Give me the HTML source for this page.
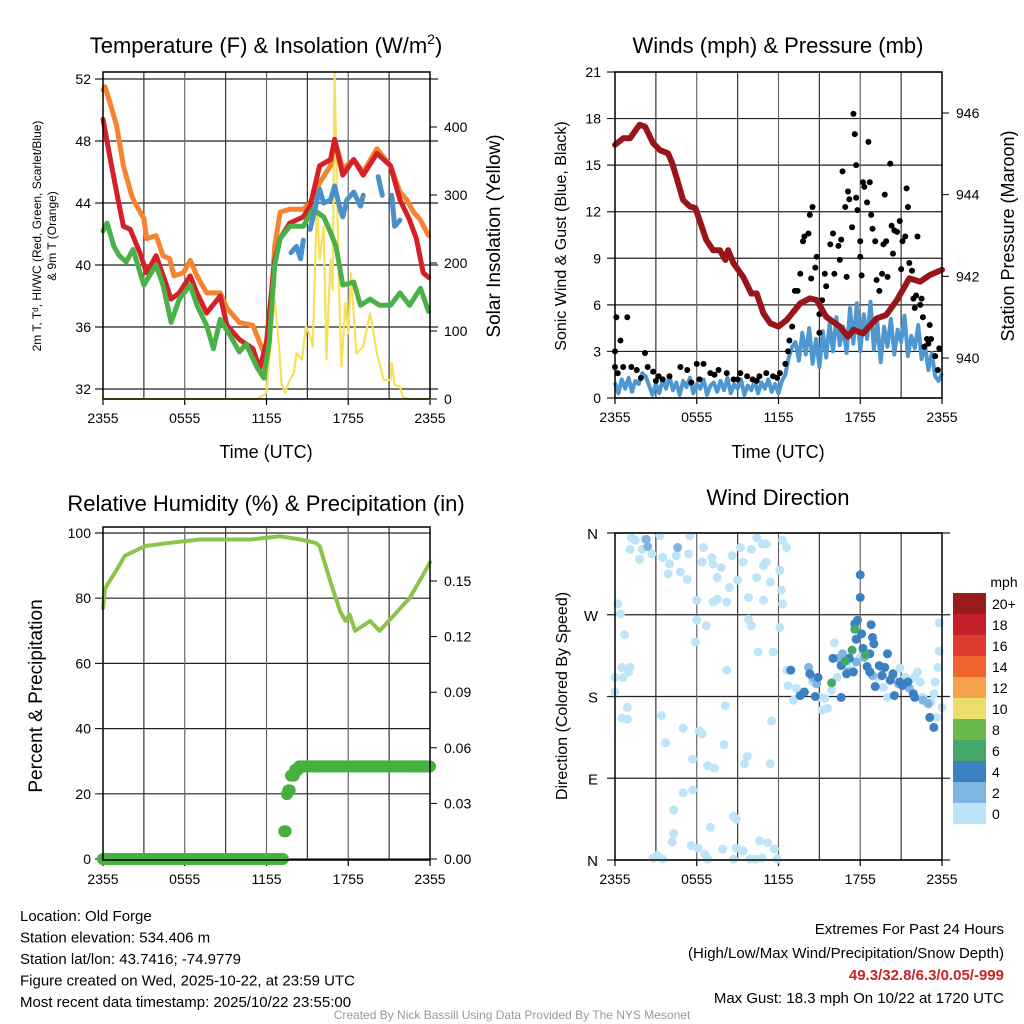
<!DOCTYPE html>
<html><head><meta charset="utf-8">
<style>
html,body{margin:0;padding:0;background:#fff;}
svg{display:block;font-family:"Liberation Sans",sans-serif;}
</style></head>
<body>
<svg id="root" width="1024" height="1024" viewBox="0 0 1024 1024" xmlns="http://www.w3.org/2000/svg">
<g id="g1"></g>
<g id="g2"></g>
<g id="g3"></g>
<g id="g4"></g>
<g id="gt"></g>
</svg>
<script>
// ---------- DATA ----------
const timeTicks = ["2355","0555","1155","1755","2355"];
const tempTicks = [32,36,40,44,48,52];
const solarTicks = [0,100,200,300,400];
const windTicks = [0,3,6,9,12,15,18,21];
const presTicks = [940,942,944,946];
const rhTicks = [0,20,40,60,80,100];
const precipTicks = [0,0.03,0.06,0.09,0.12,0.15];
const dirLabels = ["N","E","S","W","N"];

const orangeT = [0,0.15,0.5,1.0,1.5,2.1,2.35,3.0,3.2,3.9,4.4,4.9,5.2,5.9,6.4,6.9,7.6,8.6,9.1,10.0,11.0,11.5,11.8,12.2,12.6,13.0,13.7,14.7,15.2,15.9,16.7,17.0,17.6,18.4,19.1,20.1,21.1,21.8,22.3,22.8,23.3,23.9];
const orangeV = [51.3,51.5,50.5,49,46.4,44.5,44,43,41.7,41.9,40.6,40.4,39.3,39.5,40.3,39.3,38.2,38.2,37.2,36.3,36.1,35,34.4,35.7,41.2,43.4,43.6,43.6,44,45.3,46.4,48.1,46.2,46.8,46,47.5,46.4,44.7,44.2,43.4,42.9,41.9];
const redT = [0,0.5,1.0,1.5,2.0,2.7,3.2,3.9,4.5,5.0,5.6,6.4,6.9,7.6,8.6,9.1,10.0,11.0,11.5,12.0,12.6,13.0,13.7,14.7,15.2,15.9,16.7,17.0,17.6,18.4,19.1,20.1,21.1,21.8,22.5,23.0,23.5,23.9];
const redV = [49.4,47,44.7,42.5,42.3,40.8,39.5,40.6,39.1,37.8,38.2,39.3,38.2,36.9,38,36.1,35.2,34.6,33.3,35,40.3,41.7,42.7,43.1,43.8,46.4,46.8,48.1,45.8,46.8,45.8,47.2,46.4,44.2,42.9,41.7,39.5,39.2];
const greenT = [0,0.3,0.8,1.2,1.7,2.2,3.0,3.4,3.9,4.4,5.0,5.6,6.4,6.9,7.6,8.1,8.6,9.3,10.0,10.5,11.3,11.8,12.2,12.6,13.0,13.7,14.7,15.4,16.2,16.7,17.1,17.6,18.4,18.9,19.6,20.3,21.1,21.8,22.5,23.3,23.9];
const greenV = [42.2,42.7,41.2,40.6,40.2,41,38.7,39.3,40,38.7,36.3,37.8,38.7,37.4,36.1,34.6,36.5,35.5,34.4,34.9,33.4,32.7,35,40,41.7,42.5,42.5,43.6,43.1,42.1,41.2,38.7,38.9,37.4,37.8,37.4,37.4,38.2,37.4,38.5,37];
const hiwcT = [13.8,14.2,14.5,14.7,null,15.2,15.9,16.2,16.7,17.0,17.4,17.6,17.9,18.4,18.9,19.1,null,20.2,20.5,null,21.2,21.4,21.8];
const hiwcV = [40.8,41.2,40.4,41.6,null,42.3,44.9,44,44.2,45.1,43.6,43.1,44.2,44.7,43.8,44.5,null,45.7,44.5,null,44.5,42.5,42.9];
const solarT = [0,11.3,12.0,12.4,12.6,12.9,13.1,13.35,13.7,14.0,14.2,14.6,14.9,15.2,15.4,15.7,15.9,16.2,16.4,16.7,16.85,17.0,17.3,17.5,17.8,18.0,18.2,18.6,19.1,19.6,20.1,20.6,21.1,21.2,21.4,21.8,22.0,22.5,24];
const solarV = [0,0,9,107,146,82,23,9,28,38,67,58,107,92,77,289,205,254,58,205,160,480,180,48,141,97,185,67,77,126,67,28,28,53,21,18,3,0,0];

const sustained = [1.0,0.3,1.2,0.6,1.3,0.4,1.1,0.9,1.6,1.4,0.8,0.2,0.9,0.3,1.2,0.6,1.4,0.5,1.0,0.2,1.1,0.7,1.3,0.3,0.9,0.6,1.2,0.2,0.8,1.0,0.4,1.1,0.5,1.3,0.3,0.9,0.6,1.2,0.2,0.8,0.5,1.1,0.3,1.0,0.6,1.2,0.4,0.9,0.3,1.1,
 1.5,2.6,3.3,3.6,2.4,4.2,2.8,4.5,2.2,3.8,2.0,4.3,2.6,4.8,3.0,5.2,3.4,4.6,2.9,5.8,3.5,6.1,3.0,5.4,3.8,6.2,3.1,4.9,2.3,4.6,3.3,5.1,2.8,4.4,3.6,5.3,2.7,4.0,3.2,4.7,2.5,3.4,1.8,2.9,1.4,1.1,1.6];
const gustT = [0,0.1,0.9,0.4,0,0.2,0.6,1.2,1.6,2.2,2.4,2.8,3.2,3.5,4.0,4.8,5.3,6.0,6.5,6.2,7.0,7.6,8.2,8.7,9.2,9.7,10.1,10.6,11.1,11.6,12.1,12.5,12.7,12.8,13.0,13.2,13.4,13.6,13.8,13.9,14.2,14.3,14.5,14.8,14.7,14.4,15.0,15.0,15.2,15.4,15.5,15.8,16.0,16.1,16.4,16.5,16.6,16.7,16.9,17.0,17.1,17.2,17.4,17.5,17.6,17.7,17.7,17.8,18.0,18.0,18.1,18.2,18.3,18.5,18.6,18.7,18.8,18.9,19.1,19.2,19.4,19.6,19.7,19.8,19.9,20.0,20.2,20.3,20.4,20.5,20.7,20.9,21.0,21.1,21.3,21.4,21.5,21.6,21.8,21.9,22.0,22.1,22.2,22.4,22.5,22.6,22.7,22.9,23.0,23.1,23.2,23.5,23.7,23.8,1.9,3.0,5.6,7.3,9.0,10.4,11.9];
const gustV = [3.0,5.2,5.2,3.7,2.0,1.6,2.0,2.0,1.8,2.9,2.0,1.7,1.4,1.2,1.4,2.0,1.8,2.2,2.2,1.2,1.6,1.8,1.6,1.2,1.6,1.4,1.2,1.4,1.6,1.4,1.6,2.2,3.0,3.7,4.6,6.9,6.9,8.0,10.1,10.4,10.6,11.8,12.3,9.1,8.4,7.7,5.4,4.2,6.3,8.0,7.2,9.9,10.6,8.0,9.8,8.9,10.2,14.6,12.3,7.8,13.3,12.8,11.0,18.3,17.0,15.0,12.9,12.1,10.1,9.1,7.9,13.9,13.6,12.6,16.5,13.9,11.8,10.9,10.1,7.6,6.9,8.0,9.9,13.1,10.1,7.8,15.1,11.1,9.3,10.8,10.7,11.4,8.3,10.1,10.4,13.5,12.3,8.7,8.2,6.4,5.8,6.6,10.4,6.0,6.4,5.2,3.3,3.8,3.5,4.7,3.8,2.7,1.8,3.2,1.3,1.1,1.0,1.5,1.2,1.1,1.3];
const presT = [0,0.6,1.1,1.8,2.2,2.8,3.3,3.9,4.2,4.5,5.0,5.5,5.9,6.2,6.7,7.2,7.7,8.1,8.3,8.7,9.4,10.0,10.4,10.9,11.4,12.0,12.6,13.6,14.3,14.8,15.5,16.5,17.1,17.5,18.2,19.2,19.9,20.7,21.6,22.4,23.1,24.0];
const presV = [945.22,945.38,945.38,945.71,945.67,945.26,945.09,945.01,944.77,944.44,943.87,943.71,943.67,943.38,942.89,942.64,942.64,942.40,942.64,942.32,941.99,941.58,941.58,941.09,940.85,940.77,940.93,941.34,941.46,941.42,941.01,940.77,940.52,940.69,940.60,940.97,941.05,941.42,941.95,941.87,942.03,942.16];

const rhT = [0,0.15,0.9,1.6,3.1,4.9,7.1,10.8,13.0,14.5,15.6,15.9,16.7,17.4,17.8,18.1,18.5,19.6,20.3,21.4,22.5,23.6,24];
const rhV = [77,83,88,93,96,97,98,98,99,98,97,96,85,76,73,75,70,73,70,75,80,88,91];
const precipT = [0,13.3,13.45,13.6,13.8,14.1,14.4];
const precipV = [0,0.015,0.035,0.037,0.045,0.048,0.05];

const calmPts = [[1.2,355],[1.5,352],[2.2,353],[3.3,357],[1.1,342],[1.8,331],[2.0,342],[2.7,337],[3.5,333],[4.0,326],[3.9,315],[4.8,317],[5.3,309],[4.5,335],[5.4,337],[5.5,357],[6.5,344],[6.4,328],[7.1,333],[7.2,326],[7.8,322],[7.5,311],[8.6,335],[9.2,344],[9.4,328],[8.4,300],[9.0,308],[10.0,342],[10.4,355],[10.8,348],[11.1,348],[10.9,324],[11.1,328],[10.4,311],[11.4,306],[12.1,319],[12.3,352],[12.6,344],[12.2,297],[12.3,282],[10.9,286],[9.8,289],[8.2,284],[7.5,287],[7.2,284],[6.0,286],[6.0,264],[6.7,258],[5.9,240],[9.8,265],[10.0,258],[10.5,229],[11.6,229],[12.1,256],[0.2,282],[0.4,271],[0.7,248],[0.5,212],[1.1,212],[1.0,207],[0.0,201],[0.6,201],[0.0,185],[0.9,168],[0.5,156],[0.9,155],[3.4,159],[5.0,145],[6.2,142],[6.4,139],[3.7,129],[8.1,170],[8.2,209],[8.0,127],[5.7,111],[6.8,104],[7.3,101],[9.7,114],[9.5,106],[11.5,153],[11.4,106],[5.7,77],[5.0,74],[4.3,55],[4.3,29],[4.2,20],[7.0,36],[8.7,48],[8.9,45],[5.6,16],[6.1,13],[7.9,12],[8.9,13],[9.4,10],[10.6,21],[11.2,19],[11.7,12],[2.8,2],[3.1,5],[3.5,1],[6.6,6],[6.8,1],[8.7,1],[9.9,1],[10.3,1],[10.8,2],[11.9,1],[12.6,209],[12.7,192],[13.1,176],[13.3,189],[13.6,185],[14.5,196],[15.0,179],[15.2,165],[15.6,167],[15.4,178],[15.9,187],[16.1,239],[16.3,201],[17.0,216],[17.4,209],[18.0,223],[19.3,201],[19.7,190],[20.0,179],[20.9,211],[21.3,201],[21.6,198],[22.0,201],[22.2,207],[22.4,196],[22.6,179],[22.9,174],[23.2,174],[23.4,183],[23.5,196],[23.7,212],[23.8,230],[23.8,261],[24.0,168],[23.6,157]];
const lightPts = [[2.3,353],[2.4,345],[4.6,344],[14.2,212],[14.5,201],[14.8,194],[16.4,222],[16.7,227],[17.1,207],[17.7,218],[18.3,223],[18.9,203],[19.6,212],[20.4,203],[20.8,194],[21.6,189],[22.6,176],[23.0,172]];
const modPts = [[12.9,209],[13.6,181],[13.9,185],[14.3,205],[14.9,201],[14.7,180],[16.6,179],[16.0,222],[16.6,214],[17.0,205],[17.5,207],[17.2,222],[17.6,260],[17.7,243],[17.8,264],[18.1,249],[18.2,233],[18.0,289],[18.0,314],[18.5,213],[18.7,207],[18.8,259],[18.9,245],[19.0,238],[18.7,227],[19.1,191],[19.4,214],[19.6,203],[19.8,212],[20.0,227],[20.2,198],[20.4,205],[20.5,181],[20.9,196],[21.1,192],[21.5,196],[21.9,183],[23.1,157],[23.4,146],[22.0,179]];
const freshPts = [[15.9,195],[16.9,219],[17.4,231],[17.6,254],[18.4,226]];
const speedBins = ["20+","18","16","14","12","10","8","6","4","2","0"];
const binColors = ["#981b1e","#c3202b","#de3b2f","#ef6430","#f6a24c","#ebdf69","#6ab94d","#43a868","#3b80c2","#7fb6e1","#bde4f8"];

// ---------- HELPERS ----------
const NS="http://www.w3.org/2000/svg";
function mk(parent, tag, attrs, name){
  const el=document.createElementNS(NS,tag);
  for(const k in attrs) el.setAttribute(k,attrs[k]);
  
  
  parent.appendChild(el); return el;
}
function txt(parent,x,y,s,size,name,anchor,extra){
  const el=mk(parent,'text',Object.assign({x:x,y:y,'font-size':size,'text-anchor':anchor||'middle',fill:'#000'},extra||{}),name);
  el.textContent=s; return el;
}
function lin(d0,d1,r0,r1){return v=>r0+(v-d0)*(r1-r0)/(d1-d0);}
function frame(g,x0,x1,y0,y1){
  mk(g,'rect',{x:x0,y:y0,width:x1-x0,height:y1-y0,fill:'none',stroke:'#000','stroke-width':1.5},'plot-frame');
}
function timeGrid(g,x0,x1,y0,y1,xs){
  for(let h=3;h<24;h+=3){
    mk(g,'line',{x1:xs(h),x2:xs(h),y1:y0,y2:y1,stroke:h%6?'#333':'#666','stroke-width':1.2},'x-gridline');
  }
  timeTicks.forEach((s,i)=>{
    const x=xs(i*6);
    mk(g,'line',{x1:x,x2:x,y1:y1,y2:y1+6,stroke:'#000','stroke-width':1.2},'x-tick');
    txt(g,x,y1+24,s,14,'x-tick-label');
  });
}
function poly(g,T,V,xs,ys,stroke,w,name){
  let d='',pen=false;
  for(let i=0;i<T.length;i++){
    if(T[i]===null){pen=false;continue;}
    d+=(pen?'L':'M')+xs(T[i]).toFixed(1)+','+ys(V[i]).toFixed(1);
    pen=true;
  }
  return mk(g,'path',{d:d,fill:'none',stroke:stroke,'stroke-width':w,'stroke-linejoin':'round','stroke-linecap':'round'},name);
}

// ---------- PANEL 1 ----------
(function(){
  const g=document.getElementById('g1');
  const x0=103,x1=430,y0=72,y1=399;
  const xs=lin(0,24,x0,x1), ys=lin(32,52,389,79), ss=lin(0,400,399,127);
  tempTicks.forEach(v=>{
    mk(g,'line',{x1:x0-8,x2:x1+8,y1:ys(v),y2:ys(v),stroke:'#222','stroke-width':1.2},'y-gridline');
    txt(g,x0-12,ys(v)+5,String(v),14,'y-tick-label','end');
  });
  solarTicks.forEach(v=>{
    mk(g,'line',{x1:x1,x2:x1+7,y1:ss(v),y2:ss(v),stroke:'#000'},'y2-tick');
    txt(g,x1+14,ss(v)+5,String(v),14,'y2-tick-label','start');
  });
  timeGrid(g,x0,x1,y0,y1,xs);
  poly(g,solarT,solarV,xs,ss,'#f8e05a',2.2,'solar-line');
  poly(g,orangeT,orangeV,xs,ys,'#f5832f',5,'temp-9m-line');
  poly(g,redT,redV,xs,ys,'#d42027',5,'temp-2m-line');
  poly(g,greenT,greenV,xs,ys,'#4ab148',5,'dewpoint-line');
  poly(g,hiwcT,hiwcV,xs,ys,'#4a90c9',5,'hi-wc-line');
  frame(g,x0,x1,y0,y1);
  const t=txt(g,266,53,'Temperature (F) & Insolation (W/m',22,'chart-title');
  const sp=document.createElementNS(NS,'tspan'); sp.setAttribute('dy','-9'); sp.setAttribute('font-size','14'); sp.textContent='2'; t.appendChild(sp);
  const sp2=document.createElementNS(NS,'tspan'); sp2.setAttribute('dy','9'); sp2.textContent=')'; t.appendChild(sp2);
  txt(g,266,458,'Time (UTC)',18,'x-axis-title');
  txt(g,0,0,'2m T, T\u1d48, HI/WC (Red, Green, Scarlet/Blue)',12,'y-axis-title',null,{transform:'translate(41,236) rotate(-90)'});
  txt(g,0,0,'& 9m T (Orange)',12,'y-axis-title-line2',null,{transform:'translate(56,236) rotate(-90)'});
  txt(g,0,0,'Solar Insolation (Yellow)',19,'y2-axis-title',null,{transform:'translate(500,236) rotate(-90)'});
})();

// ---------- PANEL 2 ----------
(function(){
  const g=document.getElementById('g2');
  const x0=615,x1=942,y0=72,y1=398;
  const xs=lin(0,24,x0,x1), ys=lin(0,21,398,72), ps=lin(940,946,358,113);
  windTicks.forEach(v=>{
    mk(g,'line',{x1:x0-8,x2:x1,y1:ys(v),y2:ys(v),stroke:'#222','stroke-width':1.2},'y-gridline');
    txt(g,x0-14,ys(v)+5,String(v),14,'y-tick-label','end');
  });
  presTicks.forEach(v=>{
    mk(g,'line',{x1:x1,x2:x1+7,y1:ps(v),y2:ps(v),stroke:'#000'},'y2-tick');
    txt(g,x1+14,ps(v)+5,String(v),14,'y2-tick-label','start');
  });
  timeGrid(g,x0,x1,y0,y1,xs);
  let d='';
  sustained.forEach((v,i)=>{d+=(i?'L':'M')+xs(i*0.25).toFixed(1)+','+ys(v).toFixed(1);});
  mk(g,'path',{d:d,fill:'none',stroke:'#4f97d0','stroke-width':4,'stroke-linejoin':'round'},'sustained-wind-line');
  gustT.forEach((t,i)=>{
    const c=mk(g,'circle',{cx:xs(t),cy:ys(gustV[i]),r:3,fill:'#000'},'gust-point');
  });
  poly(g,presT,presV,xs,ps,'#98161a',6,'pressure-line');
  frame(g,x0,x1,y0,y1);
  txt(g,778,53,'Winds (mph) & Pressure (mb)',22,'chart-title');
  txt(g,778,458,'Time (UTC)',18,'x-axis-title');
  txt(g,0,0,'Sonic Wind & Gust (Blue, Black)',16,'y-axis-title',null,{transform:'translate(566,236) rotate(-90)'});
  txt(g,0,0,'Station Pressure (Maroon)',18,'y2-axis-title',null,{transform:'translate(1014,236) rotate(-90)'});
})();

// ---------- PANEL 3 ----------
(function(){
  const g=document.getElementById('g3');
  const x0=103,x1=430,y0=527,y1=860;
  const xs=lin(0,24,x0,x1), ys=lin(0,100,859,533), pr=lin(0,0.15,859,581);
  rhTicks.forEach(v=>{
    mk(g,'line',{x1:x0-8,x2:x1,y1:ys(v),y2:ys(v),stroke:'#222','stroke-width':1.2},'y-gridline');
    txt(g,x0-12,ys(v)+5,String(v),14,'y-tick-label','end');
  });
  precipTicks.forEach(v=>{
    mk(g,'line',{x1:x1,x2:x1+7,y1:pr(v),y2:pr(v),stroke:'#000'},'y2-tick');
    txt(g,x1+14,pr(v)+5,v.toFixed(2),14,'y2-tick-label','start');
  });
  timeGrid(g,x0,x1,y0,y1,xs);
  poly(g,rhT,rhV,xs,ys,'#8cc34b',4,'rh-line');
  for(let t=0;t<=24.001;t+=0.1){
    let v=0; for(let k=0;k<precipT.length;k++) if(t>=precipT[k]-1e-6) v=precipV[k];
    mk(g,'circle',{cx:xs(t),cy:pr(v),r:6,fill:'#46b041'},'precip-point');
  }
  frame(g,x0,x1,y0,y1);
  txt(g,266,511,'Relative Humidity (%) & Precipitation (in)',22,'chart-title');
  txt(g,0,0,'Percent & Precipitation',19,'y-axis-title',null,{transform:'translate(42,696) rotate(-90)'});
})();

// ---------- PANEL 4 ----------
(function(){
  const g=document.getElementById('g4');
  const x0=615,x1=942,y0=533,y1=860;
  const xs=lin(0,24,x0,x1), ds=lin(0,360,860,533);
  dirLabels.forEach((s,i)=>{
    const y=ds(i*90);
    mk(g,'line',{x1:x0-8,x2:x1+8,y1:y,y2:y,stroke:'#222','stroke-width':1.2},'y-gridline');
    txt(g,x0-17,y+6,s,15,'y-tick-label','end');
  });
  timeGrid(g,x0,x1,y0,y1,xs);
  calmPts.forEach(p=>{mk(g,'circle',{cx:xs(p[0]),cy:ds(p[1]),r:4.5,fill:binColors[10]},'direction-point-calm');});
  lightPts.forEach(p=>{mk(g,'circle',{cx:xs(p[0]),cy:ds(p[1]),r:4.5,fill:binColors[9]},'direction-point-light');});
  modPts.forEach(p=>{mk(g,'circle',{cx:xs(p[0]),cy:ds(p[1]),r:4.5,fill:binColors[8]},'direction-point-moderate');});
  freshPts.forEach(p=>{mk(g,'circle',{cx:xs(p[0]),cy:ds(p[1]),r:4.5,fill:binColors[7]},'direction-point-fresh');});
  frame(g,x0,x1,y0,y1);
  txt(g,778,505,'Wind Direction',22,'chart-title');
  txt(g,0,0,'Direction (Colored By Speed)',16,'y-axis-title',null,{transform:'translate(567,696) rotate(-90)'});
  txt(g,1004,587,'mph',14,'legend-title');
  speedBins.forEach((s,i)=>{
    mk(g,'rect',{x:953,y:593+i*21,width:33,height:21,fill:binColors[i]},'legend-swatch');
    txt(g,992,609+i*21,s,14,'legend-label','start');
  });
})();

// ---------- TEXT ----------
(function(){
  const g=document.getElementById('gt');
  const L=["Location: Old Forge","Station elevation: 534.406 m","Station lat/lon: 43.7416; -74.9779","Figure created on Wed, 2025-10-22, at 23:59 UTC","Most recent data timestamp: 2025/10/22 23:55:00"];
  L.forEach((s,i)=>txt(g,20,921+i*21.5,s,15,'station-info-line','start'));
  txt(g,1004,934,'Extremes For Past 24 Hours',15,'extremes-title','end');
  txt(g,1004,958,'(High/Low/Max Wind/Precipitation/Snow Depth)',15,'extremes-subtitle','end');
  txt(g,1004,980,'49.3/32.8/6.3/0.05/-999',15,'extremes-values','end',{fill:'#cc2229','font-weight':'bold'});
  txt(g,1004,1003,'Max Gust: 18.3 mph On 10/22 at 1720 UTC',15,'max-gust','end');
  txt(g,512,1019,'Created By Nick Bassill Using Data Provided By The NYS Mesonet',12,'credit-line',null,{fill:'#999'});
})();
</script>
</body></html>
